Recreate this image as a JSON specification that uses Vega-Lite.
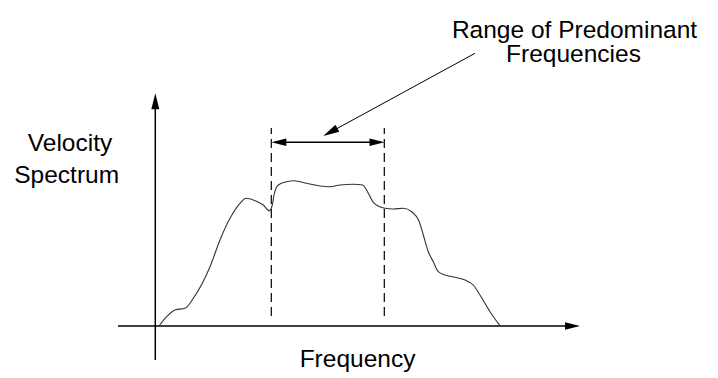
{
  "$schema": "https://vega.github.io/schema/vega-lite/v6.json",
  "width": 718,
  "height": 378,
  "autosize": {"type": "fit", "contains": "padding"},
  "padding": 0,
  "background": "white",
  "config": {"view": {"stroke": null}},
  "datasets": {
    "curve": [
      {"f": 2, "s": 0}, {"f": 9.7, "s": 9.3}, {"f": 18, "s": 16}, {"f": 28, "s": 17.7},
      {"f": 36.3, "s": 27.7}, {"f": 53, "s": 59.3}, {"f": 63, "s": 86}, {"f": 73, "s": 107.7},
      {"f": 83, "s": 122.7}, {"f": 89, "s": 127.7}, {"f": 98, "s": 125.3}, {"f": 106.3, "s": 121},
      {"f": 112.3, "s": 115.3}, {"f": 115.3, "s": 121}, {"f": 117, "s": 131}, {"f": 121.3, "s": 141},
      {"f": 129.7, "s": 144.3}, {"f": 137, "s": 145.3}, {"f": 149.7, "s": 142.7}, {"f": 163, "s": 140},
      {"f": 173, "s": 139.3}, {"f": 183, "s": 141}, {"f": 196.3, "s": 141.7}, {"f": 205.7, "s": 141},
      {"f": 211.3, "s": 132.7}, {"f": 216.3, "s": 123.7}, {"f": 228, "s": 117.7}, {"f": 236.3, "s": 117},
      {"f": 246.3, "s": 117.7}, {"f": 254.7, "s": 114.3}, {"f": 262.3, "s": 104.3}, {"f": 266.3, "s": 91},
      {"f": 271.3, "s": 74.3}, {"f": 276.3, "s": 64.3}, {"f": 281.3, "s": 54.3}, {"f": 288, "s": 51},
      {"f": 298, "s": 48.7}, {"f": 308, "s": 46}, {"f": 316.3, "s": 41}, {"f": 323, "s": 31},
      {"f": 333, "s": 14.3}, {"f": 343, "s": 0.3}
    ],
    "axes": [
      {"name": "yaxis", "f": -1.7, "s": -34, "f2": -1.7, "s2": 222},
      {"name": "xaxis", "f": -39, "s": 0, "f2": 410, "s2": 0}
    ],
    "dashed": [
      {"name": "low", "f": 114.3, "s": 10, "f2": 114.3, "s2": 198},
      {"name": "high", "f": 227.3, "s": 10, "f2": 227.3, "s2": 198}
    ],
    "dimension": [
      {"name": "range", "f": 118, "s": 183.7, "f2": 224, "s2": 183.7}
    ],
    "pointer": [
      {"name": "leader", "f": 318, "s": 272.7, "f2": 170, "s2": 192}
    ],
    "heads": [
      {"dir": "up", "f": -1.7, "s": 232.7},
      {"dir": "right", "f": 423, "s": 0},
      {"dir": "right", "f": 227.5, "s": 183.7},
      {"dir": "left", "f": 114.3, "s": 183.7},
      {"dir": "diag", "f": 166.3, "s": 190}
    ],
    "labels": [
      {"text": "Range of Predominant", "f": 417.5, "s": 288.2},
      {"text": "Frequencies", "f": 416.5, "s": 263.8},
      {"text": "Velocity", "f": -87, "s": 175.5},
      {"text": "Spectrum", "f": -90.3, "s": 143.5},
      {"text": "Frequency", "f": 200.5, "s": -40.7}
    ]
  },
  "encoding": {
    "x": {"field": "f", "type": "quantitative", "scale": {"domain": [-157, 561], "nice": false, "zero": false}, "axis": null},
    "y": {"field": "s", "type": "quantitative", "scale": {"domain": [-52, 326], "nice": false, "zero": false}, "axis": null}
  },
  "layer": [
    {
      "data": {"name": "axes"},
      "mark": {"type": "rule", "color": "black", "strokeWidth": 1.5},
      "encoding": {"x2": {"field": "f2"}, "y2": {"field": "s2"}}
    },
    {
      "data": {"name": "dashed"},
      "mark": {"type": "rule", "color": "black", "strokeWidth": 1.2, "strokeDash": [9, 5]},
      "encoding": {"x2": {"field": "f2"}, "y2": {"field": "s2"}}
    },
    {
      "data": {"name": "dimension"},
      "mark": {"type": "rule", "color": "black", "strokeWidth": 1.5},
      "encoding": {"x2": {"field": "f2"}, "y2": {"field": "s2"}}
    },
    {
      "data": {"name": "pointer"},
      "mark": {"type": "rule", "color": "black", "strokeWidth": 1},
      "encoding": {"x2": {"field": "f2"}, "y2": {"field": "s2"}}
    },
    {
      "data": {"name": "curve"},
      "mark": {"type": "line", "color": "#333333", "strokeWidth": 1.1, "interpolate": "monotone"}
    },
    {
      "data": {"name": "heads"},
      "transform": [{"filter": "datum.dir === 'up'"}],
      "mark": {"type": "point", "shape": "M0,0L-0.5,2L0.5,2Z", "size": 256, "filled": true, "color": "black", "opacity": 1, "strokeWidth": 0, "angle": 0}
    },
    {
      "data": {"name": "heads"},
      "transform": [{"filter": "datum.dir === 'right'"}],
      "mark": {"type": "point", "shape": "M0,0L-0.5,2L0.5,2Z", "size": 225, "filled": true, "color": "black", "opacity": 1, "strokeWidth": 0, "angle": 90}
    },
    {
      "data": {"name": "heads"},
      "transform": [{"filter": "datum.dir === 'left'"}],
      "mark": {"type": "point", "shape": "M0,0L-0.5,2L0.5,2Z", "size": 225, "filled": true, "color": "black", "opacity": 1, "strokeWidth": 0, "angle": 270}
    },
    {
      "data": {"name": "heads"},
      "transform": [{"filter": "datum.dir === 'diag'"}],
      "mark": {"type": "point", "shape": "M0,0L-0.5,2L0.5,2Z", "size": 256, "filled": true, "color": "black", "opacity": 1, "strokeWidth": 0, "angle": 241.4}
    },
    {
      "data": {"name": "labels"},
      "mark": {"type": "text", "font": "Liberation Sans", "fontSize": 24.5, "align": "center", "baseline": "alphabetic", "color": "black"},
      "encoding": {"text": {"field": "text"}}
    }
  ]
}
